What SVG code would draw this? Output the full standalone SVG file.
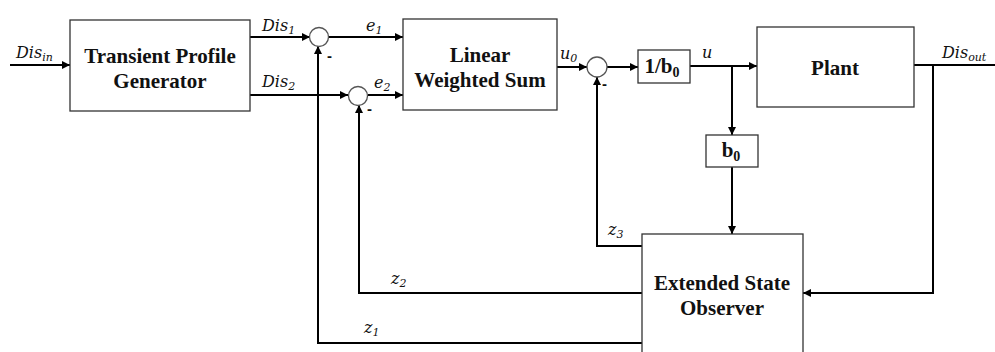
<svg xmlns="http://www.w3.org/2000/svg" width="995" height="352" viewBox="0 0 995 352">
<defs>
<marker id="ah" viewBox="0 0 8 8" refX="8" refY="4" markerWidth="4" markerHeight="4" orient="auto" markerUnits="strokeWidth">
<path d="M0,0 L8,4 L0,8 z" fill="#000"/>
</marker>
</defs>
<rect width="995" height="352" fill="#fff"/>
<g id="connectors" fill="none" stroke="#000" stroke-width="2">
<line x1="10" y1="65" x2="70" y2="65" marker-end="url(#ah)"/>
<line x1="250" y1="37" x2="310" y2="37" marker-end="url(#ah)"/>
<line x1="250" y1="95" x2="348" y2="95" marker-end="url(#ah)"/>
<line x1="329" y1="37" x2="403" y2="37" marker-end="url(#ah)"/>
<line x1="368" y1="95" x2="403" y2="95" marker-end="url(#ah)"/>
<line x1="557" y1="67" x2="587" y2="67" marker-end="url(#ah)"/>
<line x1="607" y1="67" x2="638" y2="67" marker-end="url(#ah)"/>
<line x1="690" y1="66" x2="757" y2="66" marker-end="url(#ah)"/>
<line x1="732" y1="66" x2="732" y2="135" marker-end="url(#ah)"/>
<line x1="732" y1="167" x2="732" y2="234" marker-end="url(#ah)"/>
<line x1="914" y1="65" x2="995" y2="65"/>
<polyline points="933,65 933,293 803,293" marker-end="url(#ah)"/>
<polyline points="642,246 597,246 597,77" marker-end="url(#ah)"/>
<polyline points="642,293 359,293 359,105" marker-end="url(#ah)"/>
<polyline points="642,343 318,343 318,46" marker-end="url(#ah)"/>
</g>
<g id="tpg">
<rect x="70" y="20" width="180" height="91" fill="#fff" stroke="#333" stroke-width="1.3"/>
<text font-family="Liberation Serif, Times New Roman, serif" font-weight="bold" font-size="21" fill="#111" text-anchor="middle" x="160" y="63">Transient Profile</text>
<text font-family="Liberation Serif, Times New Roman, serif" font-weight="bold" font-size="21" fill="#111" text-anchor="middle" x="160" y="88">Generator</text>
</g>
<g id="sum1">
<circle cx="319" cy="37" r="9.5" fill="#fff" stroke="#555" stroke-width="1.3"/>
<text font-family="Liberation Sans, sans-serif" font-weight="bold" font-size="15" fill="#111" x="327" y="61">-</text>
</g>
<g id="sum2">
<circle cx="358" cy="96" r="9.5" fill="#fff" stroke="#555" stroke-width="1.3"/>
<text font-family="Liberation Sans, sans-serif" font-weight="bold" font-size="15" fill="#111" x="367" y="114">-</text>
</g>
<g id="lws">
<rect x="403" y="19" width="154" height="91" fill="#fff" stroke="#333" stroke-width="1.3"/>
<text font-family="Liberation Serif, Times New Roman, serif" font-weight="bold" font-size="21" fill="#111" text-anchor="middle" x="480" y="62">Linear</text>
<text font-family="Liberation Serif, Times New Roman, serif" font-weight="bold" font-size="21" fill="#111" text-anchor="middle" x="480" y="87">Weighted Sum</text>
</g>
<g id="sum3">
<circle cx="597" cy="67" r="10" fill="#fff" stroke="#555" stroke-width="1.3"/>
<text font-family="Liberation Sans, sans-serif" font-weight="bold" font-size="15" fill="#111" x="602" y="89">-</text>
</g>
<g id="inv-b0">
<rect x="638" y="50" width="52" height="33" fill="#fff" stroke="#333" stroke-width="1.3"/>
<text font-family="Liberation Serif, Times New Roman, serif" font-weight="bold" font-size="21" fill="#111" text-anchor="middle" x="662" y="73">1/b<tspan font-size="14" dy="4">0</tspan></text>
</g>
<g id="plant">
<rect x="757" y="27" width="157" height="80" fill="#fff" stroke="#333" stroke-width="1.3"/>
<text font-family="Liberation Serif, Times New Roman, serif" font-weight="bold" font-size="21" fill="#111" text-anchor="middle" x="835" y="75">Plant</text>
</g>
<g id="b0">
<rect x="706" y="135" width="52" height="32" fill="#fff" stroke="#333" stroke-width="1.3"/>
<text font-family="Liberation Serif, Times New Roman, serif" font-weight="bold" font-size="21" fill="#111" text-anchor="middle" x="731" y="157">b<tspan font-size="14" dy="4">0</tspan></text>
</g>
<g id="eso">
<rect x="642" y="234" width="161" height="130" fill="#fff" stroke="#333" stroke-width="1.3"/>
<text font-family="Liberation Serif, Times New Roman, serif" font-weight="bold" font-size="21" fill="#111" text-anchor="middle" x="722" y="290">Extended State</text>
<text font-family="Liberation Serif, Times New Roman, serif" font-weight="bold" font-size="21" fill="#111" text-anchor="middle" x="722" y="315">Observer</text>
</g>
<g id="labels" fill="#111">
<text font-family="DejaVu Serif, serif" font-style="italic" font-size="16" x="16" y="58">Dis<tspan font-size="11" dy="3">in</tspan></text>
<text font-family="DejaVu Serif, serif" font-style="italic" font-size="16" x="262" y="31">Dis<tspan font-size="11" dy="3">1</tspan></text>
<text font-family="DejaVu Serif, serif" font-style="italic" font-size="16" x="262" y="87">Dis<tspan font-size="11" dy="3">2</tspan></text>
<text font-family="DejaVu Serif, serif" font-style="italic" font-size="16" x="366" y="31">e<tspan font-size="11" dy="3">1</tspan></text>
<text font-family="DejaVu Serif, serif" font-style="italic" font-size="16" x="374" y="88">e<tspan font-size="11" dy="3">2</tspan></text>
<text font-family="DejaVu Serif, serif" font-style="italic" font-size="16" x="560" y="59">u<tspan font-size="11" dy="3">0</tspan></text>
<text font-family="DejaVu Serif, serif" font-style="italic" font-size="16" x="702" y="58">u</text>
<text font-family="DejaVu Serif, serif" font-style="italic" font-size="16" x="942" y="58">Dis<tspan font-size="11" dy="3">out</tspan></text>
<text font-family="DejaVu Serif, serif" font-style="italic" font-size="16" x="608" y="235">z<tspan font-size="11" dy="3">3</tspan></text>
<text font-family="DejaVu Serif, serif" font-style="italic" font-size="16" x="391" y="284">z<tspan font-size="11" dy="3">2</tspan></text>
<text font-family="DejaVu Serif, serif" font-style="italic" font-size="16" x="364" y="333">z<tspan font-size="11" dy="3">1</tspan></text>
</g>
</svg>
